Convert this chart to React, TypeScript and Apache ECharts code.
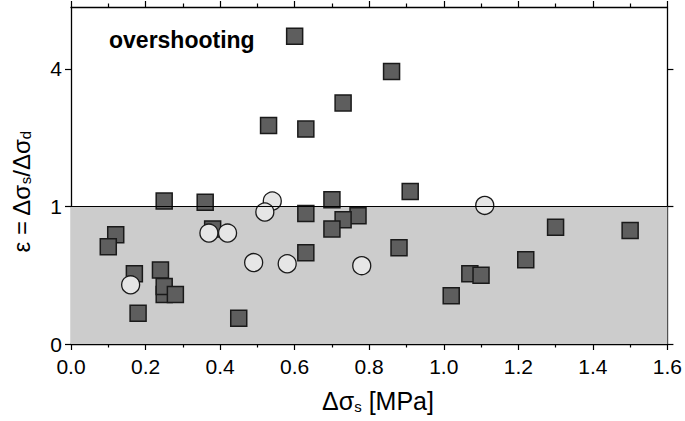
import React, { useEffect, useRef } from "react";
import * as echarts from "echarts";

// Data (x = Δσs in MPa, eps = ε = Δσs/Δσd)
const squareX = [0.60, 0.86, 0.73, 0.53, 0.63, 0.91, 0.25, 0.36, 0.70, 0.63, 0.77, 0.73, 0.70, 0.63, 0.12, 0.10, 0.38, 0.17, 0.24, 0.25, 0.25, 0.28, 0.18, 0.45, 0.88, 1.07, 1.10, 1.02, 1.22, 1.30, 1.50];
const squareEps = [5.0, 3.92, 3.07, 2.52, 2.44, 1.23, 1.08, 1.06, 1.10, 0.90, 0.87, 0.815, 0.70, 0.44, 0.63, 0.50, 0.70, 0.26, 0.29, 0.13, 0.175, 0.13, 0.05, 0.035, 0.49, 0.26, 0.25, 0.123, 0.376, 0.72, 0.68];
const circleX = [0.54, 0.52, 0.37, 0.42, 0.49, 0.58, 0.16, 0.78, 1.11];
const circleEps = [1.08, 0.92, 0.65, 0.65, 0.35, 0.34, 0.185, 0.324, 1.015];

const xTicks = [0.0, 0.2, 0.4, 0.6, 0.8, 1.0, 1.2, 1.4, 1.6];
const yTickEps = [0, 1, 4];
const yMaxEps = 6;
const threshold = 1;

const FONT = "Liberation Sans, Arial, Helvetica, sans-serif";

// square-root scale: plotted coordinate = sqrt(eps)
const toAxis = (e: number) => Math.sqrt(e);

export default function App() {
  const ref = useRef<HTMLDivElement>(null);
  useEffect(() => {
    if (!ref.current) return;
    const chart = echarts.init(ref.current, null, { renderer: "svg" });
    const yCustom = yTickEps.map(toAxis);
    const axisLineStyle = { color: "#000", width: 1.3 };
    const xCommon = {
      type: "value" as const,
      min: xTicks[0],
      max: xTicks[xTicks.length - 1],
      interval: 0.2,
      splitLine: { show: false },
      axisLine: { show: true, onZero: false, lineStyle: axisLineStyle },
      axisTick: { show: true, inside: false, length: 6, lineStyle: { color: "#000", width: 1.2 } },
      minorTick: { show: true, splitNumber: 2, length: 3.5, lineStyle: { color: "#000", width: 1.2 } },
    };
    const yCommon = {
      type: "value" as const,
      min: 0,
      max: toAxis(yMaxEps),
      splitLine: { show: false },
      axisLine: { show: true, onZero: false, lineStyle: axisLineStyle },
      axisTick: { show: true, inside: false, length: 6, customValues: yCustom, lineStyle: { color: "#000", width: 1.2 } },
    };
    const option: any = {
      animation: false,
      backgroundColor: "#fff",
      grid: { left: 71, right: 16, top: 7, bottom: 77, containLabel: false },
      xAxis: [
        {
          ...xCommon,
          position: "bottom",
          axisLabel: {
            show: true,
            fontFamily: FONT,
            fontSize: 21,
            color: "#000",
            margin: 12,
            formatter: (v: number) => v.toFixed(1),
          },
        },
        { ...xCommon, position: "top", axisLabel: { show: false } },
      ],
      yAxis: [
        {
          ...yCommon,
          position: "left",
          axisLabel: {
            show: true,
            customValues: yCustom,
            fontFamily: FONT,
            fontSize: 21,
            color: "#000",
            margin: 9,
            formatter: (v: number) => String(Math.round(v * v)),
          },
        },
        { ...yCommon, position: "right", axisLabel: { show: false } },
      ],
      series: [
        {
          type: "scatter",
          xAxisIndex: 0,
          yAxisIndex: 0,
          data: [],
          z: 1,
          markArea: {
            silent: true,
            itemStyle: { color: "#cccccc" },
            data: [[{ yAxis: 0 }, { yAxis: toAxis(threshold) }]],
          },
          markLine: {
            silent: true,
            symbol: "none",
            label: { show: false },
            lineStyle: { color: "#000", width: 1.2, type: "solid" },
            data: [{ yAxis: toAxis(threshold) }],
          },
        },
        {
          type: "scatter",
          xAxisIndex: 0,
          yAxisIndex: 0,
          z: 3,
          symbol: "rect",
          symbolSize: 16,
          itemStyle: { color: "#5e5e5e", borderColor: "#1a1a1a", borderWidth: 1.5, opacity: 1 },
          data: squareX.map((x, i) => [x, toAxis(squareEps[i])]),
        },
        {
          type: "scatter",
          xAxisIndex: 0,
          yAxisIndex: 0,
          z: 4,
          symbol: "circle",
          symbolSize: 18,
          itemStyle: { color: "#e6e6e6", borderColor: "#1a1a1a", borderWidth: 1.3, opacity: 1 },
          data: circleX.map((x, i) => [x, toAxis(circleEps[i])]),
        },
      ],
      graphic: [
        {
          type: "text",
          x: 109,
          y: 40,
          style: {
            text: "overshooting",
            font: `bold 23px ${FONT}`,
            fill: "#000",
            align: "left",
            verticalAlign: "middle",
          },
        },
        {
          type: "text",
          x: 378,
          y: 399,
          style: {
            text: "{m|Δσ}{s|s}{m| [MPa]}",
            fill: "#000",
            align: "center",
            verticalAlign: "middle",
            rich: {
              m: { fontFamily: FONT, fontSize: 25, lineHeight: 29, verticalAlign: "bottom" },
              s: { fontFamily: FONT, fontSize: 15, lineHeight: 22, verticalAlign: "bottom" },
            },
          },
        },
        {
          type: "text",
          x: 19,
          y: 192,
          rotation: Math.PI / 2,
          style: {
            text: "{m|ε = Δσ}{s|s}{m|/Δσ}{s|d}",
            fill: "#000",
            align: "center",
            verticalAlign: "middle",
            rich: {
              m: { fontFamily: FONT, fontSize: 24, lineHeight: 28, verticalAlign: "bottom" },
              s: { fontFamily: FONT, fontSize: 15, lineHeight: 21, verticalAlign: "bottom" },
            },
          },
        },
      ],
    };
    chart.setOption(option);
    return () => chart.dispose();
  }, []);
  return (
    <div
      ref={ref}
      style={{ position: "fixed", left: 0, top: 0, width: 685, height: 421 }}
    />
  );
}
